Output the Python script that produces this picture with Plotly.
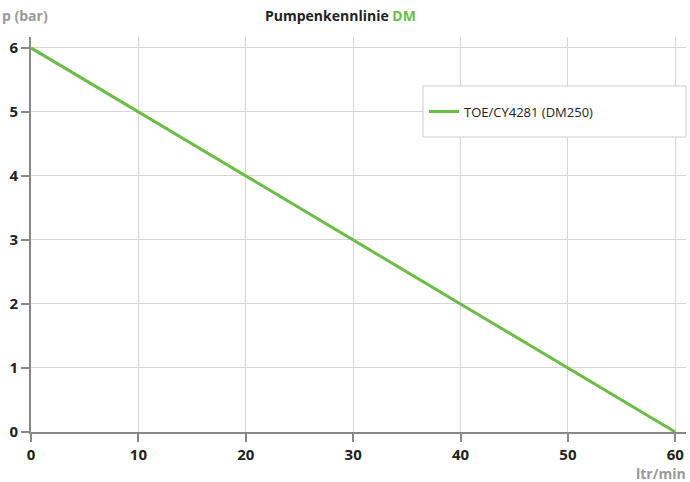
import plotly.graph_objects as go

flow = [0, 10, 20, 30, 40, 50, 60]
pressure = [6, 5, 4, 3, 2, 1, 0]
series_name = "TOE/CY4281 (DM250)"
x_ticks = [0, 10, 20, 30, 40, 50, 60]
y_ticks = [0, 1, 2, 3, 4, 5, 6]

GREEN = "#6cbd45"
FONT = "Open Sans"

fig = go.Figure()
fig.add_trace(go.Scatter(x=flow, y=pressure, mode="lines", name=series_name,
                         line=dict(color=GREEN, width=3)))

fig.update_layout(
    width=690, height=482,
    margin=dict(l=31, r=4, t=37, b=50, autoexpand=False),
    paper_bgcolor="white", plot_bgcolor="white",
    font=dict(family=FONT, color="#222"),
    showlegend=True,
    legend=dict(x=(424 - 31) / 655, y=(432 - 111.5) / 395, xanchor="left", yanchor="middle",
                borderwidth=0, bgcolor="rgba(0,0,0,0)",
                font=dict(size=13, color="#222", family=FONT),
                itemwidth=30),
    shapes=[dict(type="rect", xref="paper", yref="paper",
                 x0=(423 - 31) / 655, x1=1.0, y0=(432 - 137) / 395, y1=(432 - 86) / 395,
                 line=dict(color="#cccccc", width=1), fillcolor="white", layer="above")],
    annotations=[
        dict(text="<b>Pumpenkennlinie <span style='color:%s'>DM</span></b>" % GREEN,
             xref="paper", yref="paper", x=(340 - 31) / 655, y=1, yshift=33,
             xanchor="center", yanchor="top",
             showarrow=False, font=dict(size=14, color="#222", family=FONT)),
        dict(text="<b>p (bar)</b>", xref="paper", yref="paper", x=0, xshift=-31, y=1, yshift=33,
             xanchor="left", yanchor="top", showarrow=False,
             font=dict(size=14, color="#999", family=FONT)),
        dict(text="<b>ltr/min</b>", xref="paper", yref="paper", x=1, xshift=2, y=0, yshift=-30,
             xanchor="right", yanchor="top", showarrow=False,
             font=dict(size=14, color="#999", family=FONT)),
    ],
)
fig.update_xaxes(range=[0, 61], tickvals=x_ticks, ticktext=["<b>%d</b>" % v for v in x_ticks],
                 showgrid=True, gridcolor="#d6d6d6", gridwidth=1,
                 showline=True, linecolor="#888", linewidth=2,
                 ticks="outside", ticklen=8, tickcolor="#888", tickwidth=2,
                 tickfont=dict(size=15, color="#222", family=FONT), zeroline=False,
                 automargin=False)
fig.update_yaxes(range=[0, 6.17], tickvals=y_ticks, ticktext=["<b>%d</b>" % v for v in y_ticks],
                 showgrid=True, gridcolor="#d6d6d6", gridwidth=1,
                 showline=True, linecolor="#888", linewidth=2,
                 ticks="outside", ticklen=8, tickcolor="#888", tickwidth=2,
                 tickfont=dict(size=15, color="#222", family=FONT), zeroline=False,
                 automargin=False)

fig.write_html("out.html", config={"displayModeBar": False},
               post_script="document.body.style.margin='0';")
